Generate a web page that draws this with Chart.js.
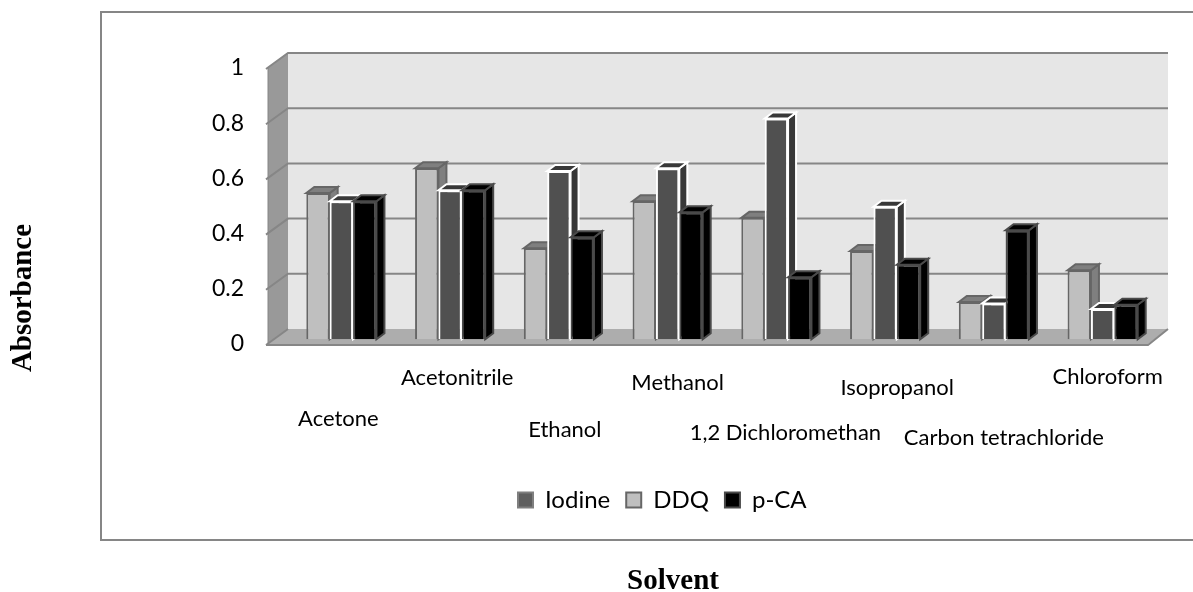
<!DOCTYPE html>
<html lang="en">
<head>
  <meta charset="UTF-8">
  <title>Absorbance by solvent</title>
  <script src="https://cdn.jsdelivr.net/npm/chart.js@4"></script>
  <style>
    body { margin: 0; background: #ffffff; }
    canvas { display: block; }
  </style>
</head>
<body>
  <canvas id="chart" width="1193" height="592"></canvas>

  <script>
    // values
    const categories = ['Acetone', 'Acetonitrile', 'Ethanol', 'Methanol', '1,2 Dichloromethan', 'Isopropanol', 'Carbon tetrachloride', 'Chloroform'];
    const ddq = [0.53, 0.62, 0.33, 0.50, 0.44, 0.32, 0.135, 0.25];
    const iodine = [0.50, 0.54, 0.61, 0.62, 0.80, 0.48, 0.13, 0.11];
    const pCA = [0.50, 0.54, 0.37, 0.46, 0.225, 0.27, 0.395, 0.125];
    const yTickLabels = ['0', '0.2', '0.4', '0.6', '0.8', '1'];
    const legendOrder = ['Iodine', 'DDQ', 'p-CA'];

    // hand placed category labels, as in the original
    const labelShiftX = [-3, 7, 6, 10, 9, 12, 10, 5];
    const labelY = [419, 378, 430, 383, 433, 388, 438, 377];

    const labelFont = '22px Lato';
    const depthX = 8, depthY = 6, barLift = 4.7;
    const wallX = 288, wallRight = 1168, frontX = 268, frontRight = 1148;

    const faces = {
      DDQ: { side: '#7f7f7f', edge: '#666666' },
      Iodine: { side: '#383838', edge: '#ffffff' },
      'p-CA': { side: '#000000', edge: '#4a4a4a' }
    };

    function poly(ctx, pts, fill, stroke, lw) {
      ctx.beginPath();
      pts.forEach((p, i) => i ? ctx.lineTo(p[0], p[1]) : ctx.moveTo(p[0], p[1]));
      ctx.closePath();
      ctx.fillStyle = fill;
      ctx.fill();
      if (stroke) {
        ctx.strokeStyle = stroke;
        ctx.lineWidth = lw;
        ctx.stroke();
      }
    }

    const scenePlugin = {
      id: 'scene',
      // legend sits in the middle of the frame, not under the plot
      afterLayout(chart) {
        const lg = chart.legend;
        lg.left = 502;
        lg.right = 1000;
        lg.top = 472;
        lg.bottom = 530;
      },
      beforeDraw(chart) {
        const ctx = chart.ctx;
        const y = chart.scales.y;
        const y0 = y.getPixelForValue(0), y1 = y.getPixelForValue(1);
        ctx.save();

        // frame
        ctx.strokeStyle = '#868686';
        ctx.lineWidth = 2;
        ctx.strokeRect(101, 12, 1200, 528);

        // back wall, side wall, floor
        poly(ctx, [[wallX, y1 - 15], [wallRight, y1 - 15], [wallRight, y0 - 15], [wallX, y0 - 15]], '#e6e6e6');
        poly(ctx, [[frontX, y1], [wallX, y1 - 15], [wallX, y0 - 15], [frontX, y0]], '#999999');
        poly(ctx, [[frontX, y0], [wallX, y0 - 15], [wallRight, y0 - 15], [frontRight, y0]], '#adadad');

        // grid lines run along the wall and down the side
        y.ticks.forEach(t => {
          const py = y.getPixelForValue(t.value);
          ctx.strokeStyle = '#868686';
          ctx.lineWidth = 2;
          ctx.beginPath();
          ctx.moveTo(frontX - 2, py + 1);
          ctx.lineTo(wallX, py - 15);
          if (t.value > 0) ctx.lineTo(wallRight, py - 15);
          ctx.stroke();
        });
        ctx.strokeStyle = '#868686';
        ctx.lineWidth = 2;
        ctx.beginPath();
        ctx.moveTo(frontX - 2, y0 + 1);
        ctx.lineTo(frontRight, y0 + 1);
        ctx.lineTo(wallRight, y0 - 15);
        ctx.stroke();

        // left edge of the side wall
        ctx.lineWidth = 1;
        ctx.beginPath();
        ctx.moveTo(frontX, y1);
        ctx.lineTo(frontX, y0);
        ctx.stroke();

        // category labels
        const x = chart.scales.x;
        ctx.fillStyle = '#000000';
        ctx.font = labelFont;
        ctx.textAlign = 'center';
        ctx.textBaseline = 'middle';
        categories.forEach((c, i) => {
          ctx.fillText(c, x.getPixelForValue(i) + labelShiftX[i], labelY[i]);
        });

        // axis titles
        ctx.font = 'bold 29px "Liberation Serif"';
        ctx.textBaseline = 'alphabetic';
        ctx.fillText('Solvent', 673, 589);
        ctx.translate(31, 298);
        ctx.rotate(-Math.PI / 2);
        ctx.fillText('Absorbance', 0, 0);
        ctx.restore();
      },
      // left to right so each bar covers the side of the one before it
      beforeDatasetsDraw(chart) {
        const ctx = chart.ctx;
        ctx.save();
        ctx.translate(0, -barLift);
        chart.data.datasets.forEach((ds, i) => {
          const f = faces[ds.label];
          chart.getDatasetMeta(i).data.forEach(bar => {
            const { x, y, width, base } = bar.getProps(['x', 'y', 'width', 'base']);
            const l = x - width / 2, r = x + width / 2;
            poly(ctx, [[r, y], [r + depthX, y - depthY], [r + depthX, base - depthY], [r, base]], f.side, f.edge, 2);
            poly(ctx, [[l, y], [l + depthX, y - depthY], [r + depthX, y - depthY], [r, y]], f.side, f.edge, 2);
            bar.draw(ctx);
          });
        });
        ctx.restore();
        return false;
      }
    };

    new Chart(document.getElementById('chart'), {
      type: 'bar',
      data: {
        labels: categories,
        datasets: [
          { label: 'DDQ', data: ddq, backgroundColor: '#bfbfbf', borderColor: '#666666', borderWidth: 2 },
          { label: 'Iodine', data: iodine, backgroundColor: '#505050', borderColor: '#ffffff', borderWidth: 2 },
          { label: 'p-CA', data: pCA, backgroundColor: '#000000', borderColor: '#4a4a4a', borderWidth: 2 }
        ]
      },
      plugins: [scenePlugin],
      options: {
        responsive: false,
        animation: false,
        devicePixelRatio: 1,
        layout: { padding: { top: 68, right: 36, left: 0, bottom: 0 } },
        categoryPercentage: 0.645,
        barPercentage: 1,
        plugins: {
          tooltip: { enabled: false },
          legend: {
            position: 'bottom',
            align: 'start',
            labels: {
              color: '#000000',
              font: { family: 'Lato', size: 24 },
              boxWidth: 15,
              boxHeight: 15,
              padding: 16,
              sort: (a, b) => legendOrder.indexOf(a.text) - legendOrder.indexOf(b.text),
              // the Iodine bars have a white edge, its key has a grey one
              generateLabels: chart => Chart.defaults.plugins.legend.labels.generateLabels(chart).map(item => {
                if (item.text === 'Iodine') {
                  item.fillStyle = '#5f5f5f';
                  item.strokeStyle = '#7f7f7f';
                }
                return item;
              })
            }
          }
        },
        scales: {
          x: {
            grid: { display: false },
            border: { display: false },
            ticks: { display: false },
            afterFit: s => { s.height = 198; }
          },
          y: {
            min: 0,
            max: 1,
            grid: { display: false, drawTicks: false },
            border: { display: false },
            ticks: {
              stepSize: 0.2,
              padding: 43,
              color: '#000000',
              font: { family: 'Lato', size: 23 },
              callback: (v, i) => yTickLabels[i]
            },
            afterFit: s => { s.width = 287; }
          }
        }
      }
    });
  </script>
</body>
</html>
